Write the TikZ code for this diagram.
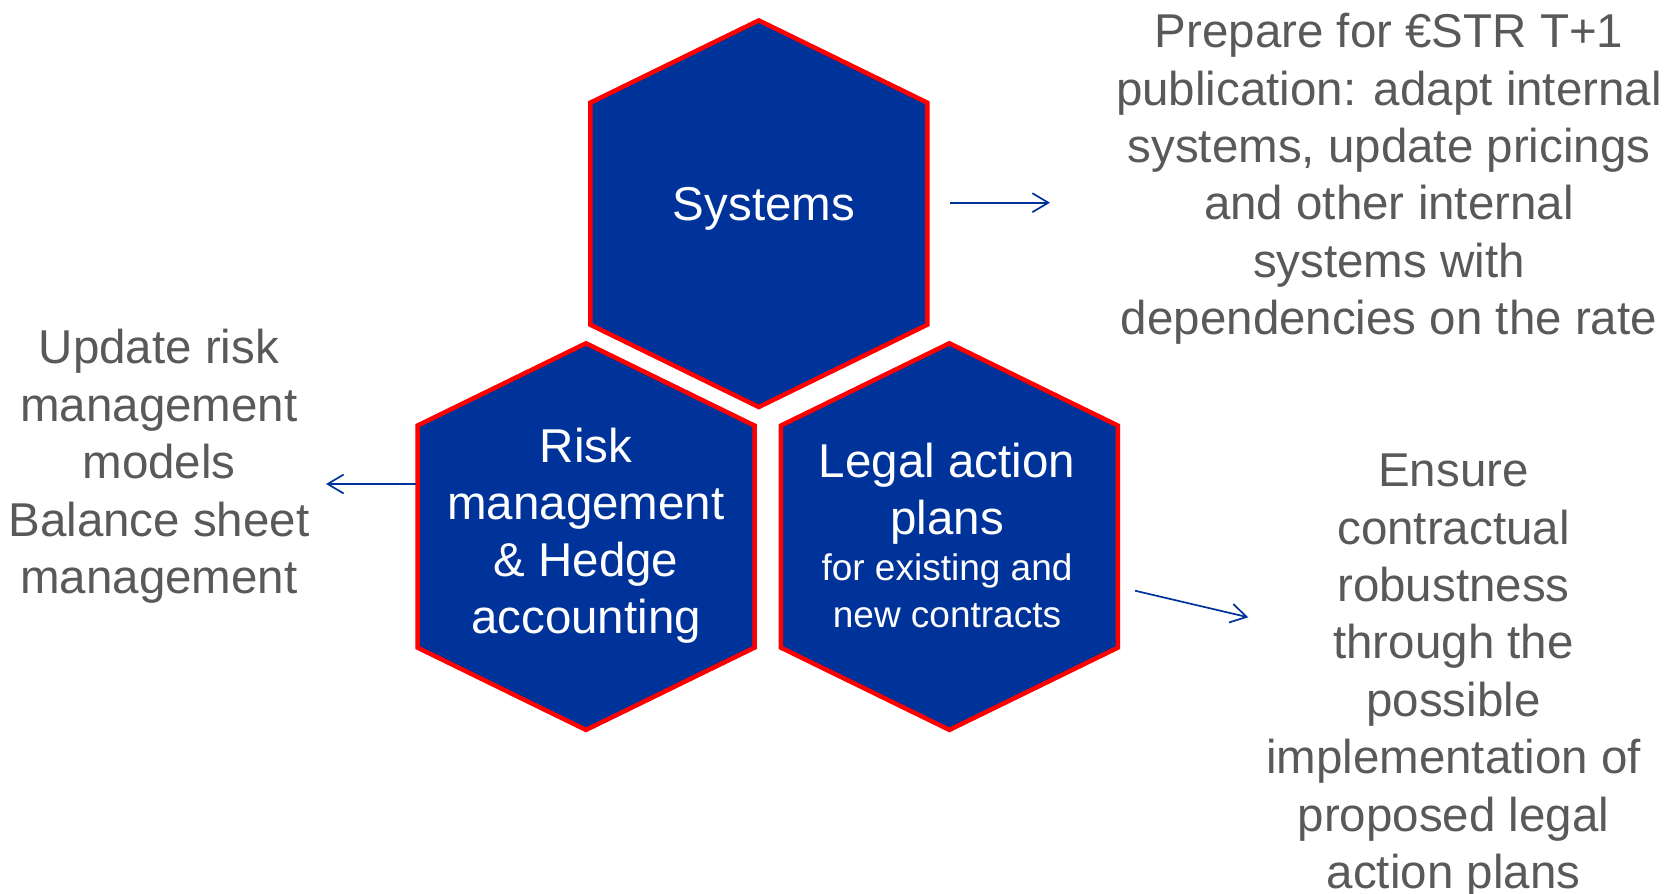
\documentclass[tikz,border=0pt]{standalone}
\usepackage{fontspec}
\setmainfont{Liberation Sans}
\usetikzlibrary{arrows.meta}
\definecolor{hexblue}{RGB}{0,51,153}
\definecolor{hexred}{RGB}{255,0,0}
\definecolor{txtgray}{RGB}{89,89,89}
\tikzset{
  hex/.style={fill=hexblue,draw=hexred,line width=4.5pt,line join=miter},
  hexagon/.pic={\path[hex] (0,-193.3) -- (168.5,-111) -- (168.5,111) -- (0,193.3) -- (-168.5,111) -- (-168.5,-111) -- cycle;},
  hextext/.style={text=white,inner sep=0pt,align=center,font=\fontsize{47.5}{57}\selectfont},
  hexsmall/.style={text=white,inner sep=0pt,align=center,font=\fontsize{37}{47}\selectfont},
  graytext/.style={text=txtgray,inner sep=0pt,align=center,font=\fontsize{47.5}{57.4}\selectfont},
  conn/.style={draw=hexblue,line width=1.7pt,-{Straight Barb[length=16pt,width=19pt]}}
}
\begin{document}
\begin{tikzpicture}[x=1pt,y=-1pt]
\useasboundingbox (0,0) rectangle (1666,894);
\clip (0,0) rectangle (1666,894);
\pic at (758.8,213.7) {hexagon};
\pic at (586,536.6) {hexagon};
\pic at (949.4,536.6) {hexagon};
% base anchor of a multi-line node = baseline of its last line
\node[hextext,anchor=base] (sys) at (764,220) {Systems};
\node[hextext,anchor=base] (risk) at (586,633) {Risk\\management\\\& Hedge\\accounting};
\node[hextext,anchor=base] (legal) at (947,534) {Legal action\\plans};
\node[hexsmall,anchor=base] (legalsub) at (947,627) {for existing and\\new contracts};
\node[graytext,anchor=base] (sysnote) at (1389,334.6) {Prepare for €STR T+1\\publication: adapt internal\\systems, update pricings\\and other internal\\systems with\\dependencies on the rate};
\node[graytext,anchor=base] (risknote) at (159,593.5) {Update risk\\management\\models\\Balance sheet\\management};
\node[graytext,anchor=base] (legalnote) at (1453.5,888.4) {Ensure\\contractual\\robustness\\through the\\possible\\implementation of\\proposed legal\\action plans};
\coordinate (a1s) at (950,202.7);
\coordinate (a1e) at (1050,202.7);
\coordinate (a2s) at (416,484);
\coordinate (a2e) at (326,484);
\coordinate (a3s) at (1135,590.7);
\coordinate (a3e) at (1248.3,617.3);
\draw[conn] (a1s) -- (a1e);
\draw[conn] (a2s) -- (a2e);
\draw[conn] (a3s) -- (a3e);
\end{tikzpicture}
\end{document}
